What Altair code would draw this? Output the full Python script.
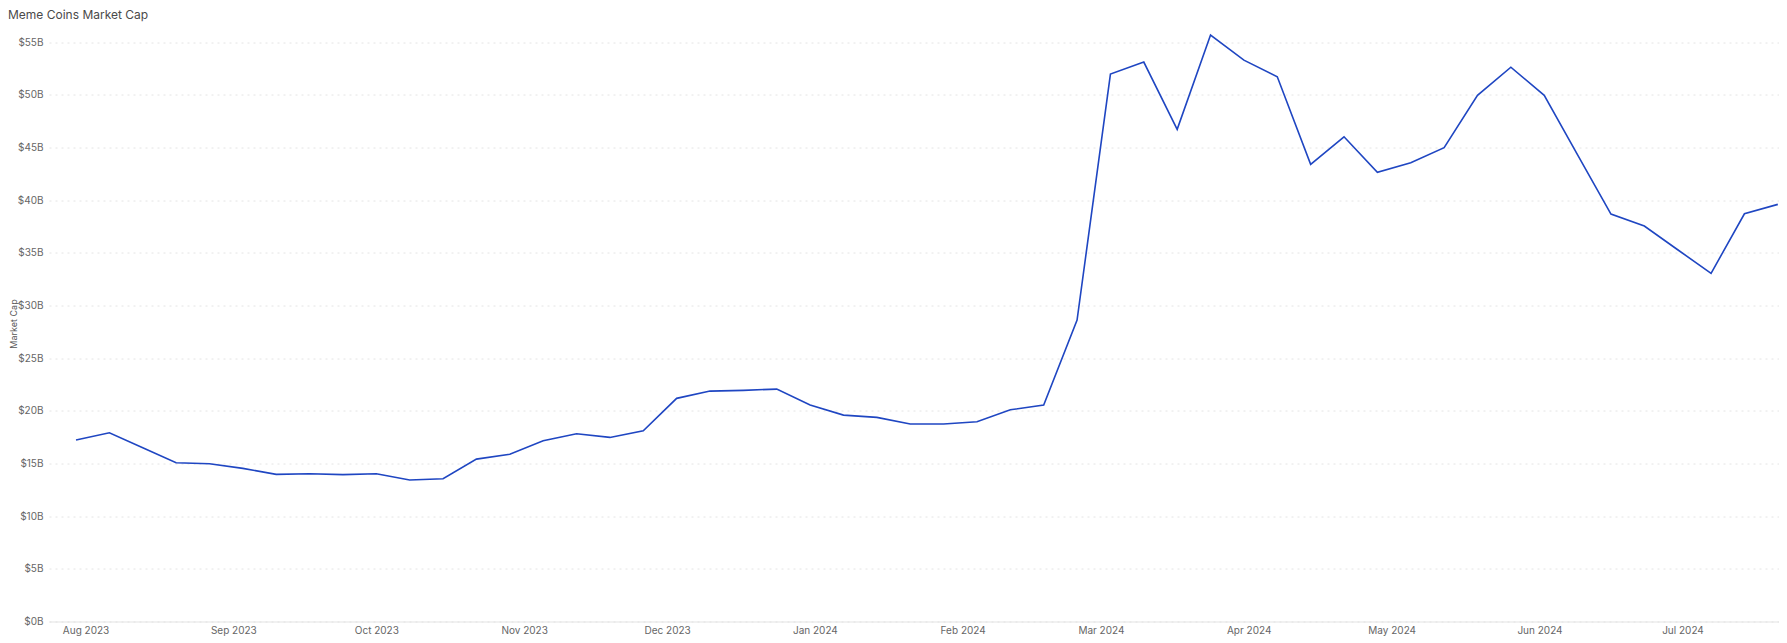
import altair as alt
import pandas as pd

dates = [
    "2023-07-30", "2023-08-06", "2023-08-13", "2023-08-20", "2023-08-27",
    "2023-09-03", "2023-09-10", "2023-09-17", "2023-09-24", "2023-10-01",
    "2023-10-08", "2023-10-15", "2023-10-22", "2023-10-29", "2023-11-05",
    "2023-11-12", "2023-11-19", "2023-11-26", "2023-12-03", "2023-12-10",
    "2023-12-17", "2023-12-24", "2023-12-31", "2024-01-07", "2024-01-14",
    "2024-01-21", "2024-01-28", "2024-02-04", "2024-02-11", "2024-02-18",
    "2024-02-25", "2024-03-03", "2024-03-10", "2024-03-17", "2024-03-24",
    "2024-03-31", "2024-04-07", "2024-04-14", "2024-04-21", "2024-04-28",
    "2024-05-05", "2024-05-12", "2024-05-19", "2024-05-26", "2024-06-02",
    "2024-06-09", "2024-06-16", "2024-06-23", "2024-06-30", "2024-07-07",
    "2024-07-14", "2024-07-21",
]

market_cap_b = [
    17.23, 17.92, 16.50, 15.07, 14.98,
    14.54, 13.97, 14.03, 13.95, 14.03,
    13.43, 13.55, 15.42, 15.88, 17.16,
    17.83, 17.48, 18.11, 21.19, 21.88,
    21.95, 22.07, 20.55, 19.60, 19.38,
    18.75, 18.75, 18.97, 20.10, 20.55,
    28.62, 51.98, 53.12, 46.73, 55.69,
    53.31, 51.73, 43.41, 46.03, 42.65,
    43.56, 44.99, 49.96, 52.63, 49.96,
    44.32, 38.69, 37.55, 35.30, 33.06,
    38.72, 39.61,
]

month_ticks = [
    (2023, 8), (2023, 9), (2023, 10), (2023, 11), (2023, 12),
    (2024, 1), (2024, 2), (2024, 3), (2024, 4), (2024, 5), (2024, 6), (2024, 7),
]

y_ticks = [0, 5, 10, 15, 20, 25, 30, 35, 40, 45, 50, 55]

df = pd.DataFrame({"date": dates, "cap": market_cap_b})

FONT = "Inter"

x_axis = alt.Axis(
    title=None,
    values=[alt.DateTime(year=y, month=m, date=1, utc=True) for y, m in month_ticks],
    labelExpr="utcFormat(datum.value, '%b %Y')",
    grid=False,
    ticks=False,
    domain=True,
    domainColor="#e3e3e3",
    domainWidth=1,
    labelFont=FONT,
    labelFontSize=10,
    labelColor="#666666",
    labelPadding=4,
)

y_axis = alt.Axis(
    title="Market Cap",
    values=y_ticks,
    labelExpr="'$' + datum.value + 'B'",
    grid=True,
    gridColor="#e4e4e4",
    gridDash=[2, 4],
    gridWidth=1,
    ticks=False,
    domain=False,
    labelFont=FONT,
    labelFontSize=10,
    labelColor="#666666",
    labelPadding=6,
    titleFont=FONT,
    titleFontSize=9,
    titleFontWeight="normal",
    titleColor="#555555",
    titleAngle=-90,
    titleX=-36,
    titleY=297,
    titleAlign="center",
    titleBaseline="middle",
)

chart = (
    alt.Chart(df)
    .mark_line(color="#1f46c2", strokeWidth=1.6)
    .encode(
        x=alt.X(
            "date:T",
            axis=x_axis,
            scale=alt.Scale(
                type="utc",
                domain=[
                    alt.DateTime(year=2023, month=7, date=24, hours=8, utc=True),
                    alt.DateTime(year=2024, month=7, date=21, hours=6, utc=True),
                ],
            ),
        ),
        y=alt.Y(
            "cap:Q",
            axis=y_axis,
            scale=alt.Scale(domain=[0, 56.5], nice=False, zero=True),
        ),
    )
    .properties(
        width=1730,
        height=595,
        title=alt.TitleParams(
            "Meme Coins Market Cap",
            anchor="start",
            frame="group",
            dx=-41,
            offset=5,
            font=FONT,
            fontSize=12,
            fontWeight="normal",
            color="#4a4a4a",
        ),
        autosize=alt.AutoSizeParams(type="none"),
        padding={"left": 41, "top": 18.5, "right": 0, "bottom": 18},
        background="white",
    )
    .configure_view(stroke=None)
)

chart.save("out.html", embed_options={"renderer": "svg", "actions": False})
